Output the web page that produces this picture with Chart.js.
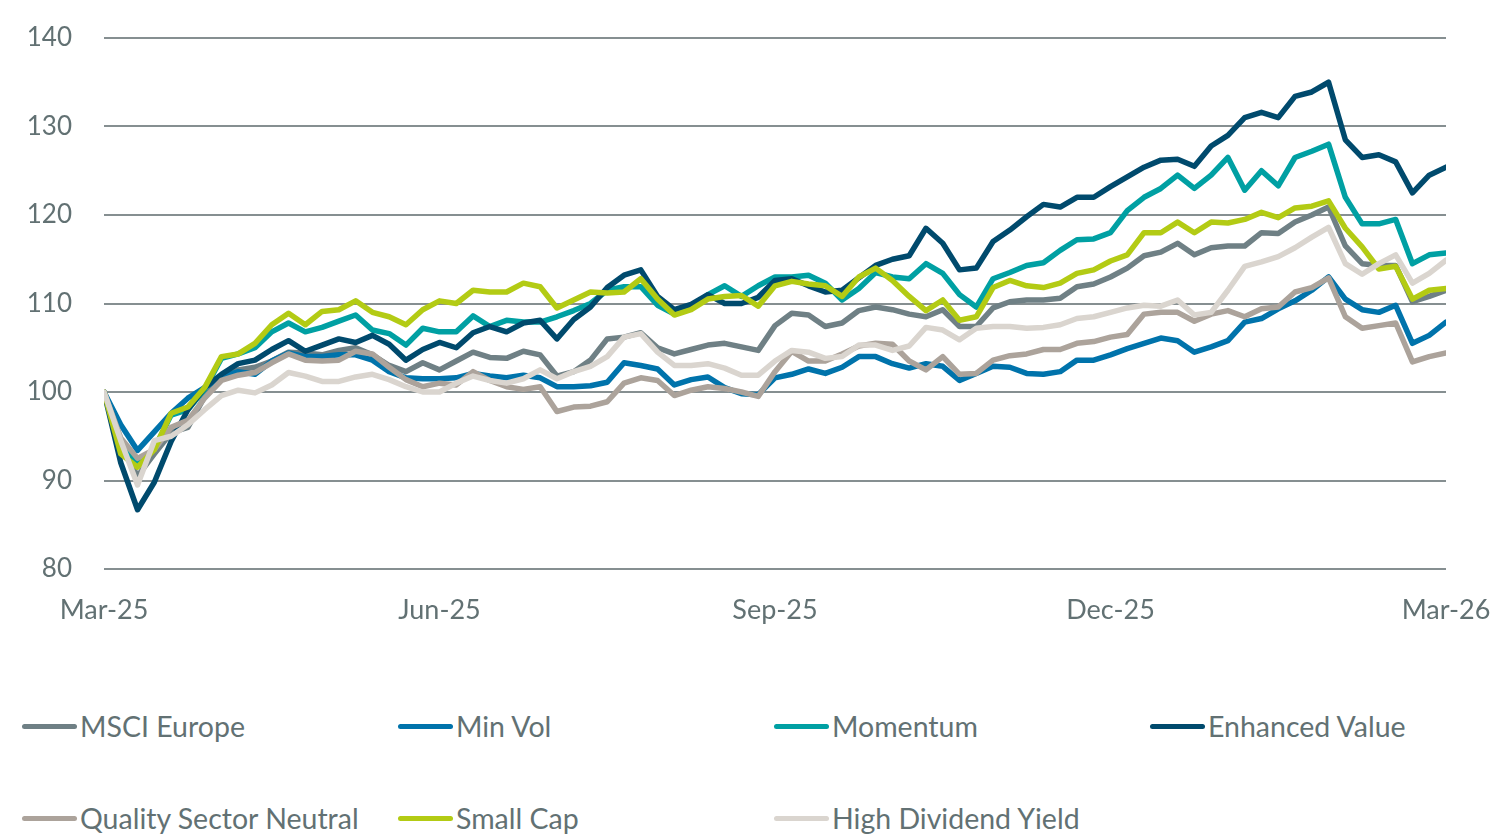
<!DOCTYPE html>
<html>
<head>
<meta charset="utf-8">
<script src="https://cdn.jsdelivr.net/npm/chart.js@4.4.1/dist/chart.umd.min.js"></script>
<style>
    html, body { margin: 0; padding: 0; background: #fff; }
    #wrap { position: relative; width: 1497px; height: 835px; font-family: Lato, 'Open Sans', sans-serif; }
    #chart { position: absolute; left: 0; top: 0; }
    .lg-item { position: absolute; display: flex; align-items: center; height: 40px; color: #627173; font-size: 28.5px; white-space: nowrap; }
    .lg-line { width: 55px; height: 5px; border-radius: 3px; margin-right: 3px; }
</style>
</head>
<body>
<div id="wrap">
    <canvas id="chart" width="1497" height="650"></canvas>
    <div id="legend"></div>
</div>
<script>
// ─── Data (index levels, Mar-25 = 100) ───────────────────────────────────────
const xTickLabels = ['Mar-25', 'Jun-25', 'Sep-25', 'Dec-25', 'Mar-26'];
const yTicks = [80, 90, 100, 110, 120, 130, 140];

const seriesNames = [
    'MSCI Europe', 'Min Vol', 'Momentum', 'Enhanced Value',
    'Quality Sector Neutral', 'Small Cap', 'High Dividend Yield',
];
const seriesColors = ['#6f8085', '#0073ab', '#00a0a3', '#004a6d', '#aca39b', '#b3cb14', '#dad5cf'];

const msciEurope = [100, 94, 90.5, 93, 95.4, 96, 99.5, 101.5, 102.5, 102.8,
    103.5, 104.5, 104.4, 104.2, 104.7, 105, 104.2, 103, 102.3, 103.3,
    102.5, 103.5, 104.5, 103.9, 103.8, 104.6, 104.2, 101.8, 102.3, 103.6,
    106, 106.2, 106.7, 105, 104.3, 104.8, 105.3, 105.5, 105.1, 104.7,
    107.5, 108.9, 108.7, 107.4, 107.8, 109.2, 109.6, 109.3, 108.8, 108.5,
    109.3, 107.4, 107.4, 109.5, 110.2, 110.4, 110.4, 110.6, 111.9, 112.2,
    113, 114, 115.4, 115.8, 116.8, 115.5, 116.3, 116.5, 116.5, 118,
    117.9, 119.2, 120, 120.9, 116.5, 114.5, 114.3, 114.3, 110.2, 110.8,
    111.5];
const minVol = [100, 96.3, 93.4, 95.5, 97.6, 99.3, 100.5, 101.7, 102.3, 102,
    103.5, 104.4, 104, 104, 104.2, 104.2, 103.6, 102.3, 101.6, 101.5,
    101.5, 101.6, 102.1, 101.8, 101.6, 101.9, 101.6, 100.6, 100.6, 100.7,
    101.1, 103.3, 103, 102.6, 100.8, 101.4, 101.7, 100.5, 99.8, 99.7,
    101.6, 102, 102.6, 102.1, 102.8, 104, 104, 103.2, 102.7, 103.2,
    102.9, 101.3, 102.1, 102.9, 102.8, 102.1, 102, 102.3, 103.6, 103.6,
    104.2, 104.9, 105.5, 106.1, 105.8, 104.5, 105.1, 105.8, 107.9, 108.3,
    109.4, 110.3, 111.5, 113, 110.5, 109.3, 109, 109.8, 105.5, 106.4,
    107.9];
const momentum = [100, 94, 91.8, 93.6, 97.4, 98, 100.3, 103.8, 104.3, 105,
    106.8, 107.8, 106.8, 107.3, 108, 108.7, 107, 106.6, 105.3, 107.2,
    106.8, 106.8, 108.6, 107.4, 108.1, 107.9, 107.9, 108.5, 109.2, 110,
    111.5, 111.9, 111.9, 109.8, 108.8, 109.6, 111, 112, 110.8, 112,
    113, 113, 113.2, 112.3, 110.4, 111.7, 113.5, 113, 112.8, 114.5,
    113.4, 111, 109.6, 112.8, 113.5, 114.3, 114.6, 116, 117.2, 117.3,
    118, 120.5, 122, 123, 124.5, 123, 124.5, 126.5, 122.8, 125,
    123.3, 126.5, 127.2, 128, 122, 119, 119, 119.5, 114.5, 115.5,
    115.7];
const enhancedValue = [100, 92, 86.7, 89.8, 94.4, 98, 100.5, 102, 103.2, 103.6,
    104.8, 105.8, 104.6, 105.3, 106, 105.6, 106.4, 105.4, 103.6, 104.8,
    105.6, 105, 106.7, 107.4, 106.8, 107.8, 108.1, 106, 108.2, 109.6,
    111.8, 113.2, 113.8, 110.8, 109.3, 109.9, 111, 110, 110, 110.7,
    112.6, 112.8, 112, 111.3, 111.5, 112.9, 114.3, 115, 115.4, 118.5,
    116.8, 113.8, 114, 117, 118.3, 119.8, 121.2, 120.9, 122, 122,
    123.2, 124.3, 125.4, 126.2, 126.3, 125.5, 127.8, 129, 131, 131.6,
    131, 133.4, 133.9, 135, 128.5, 126.5, 126.8, 126, 122.5, 124.5,
    125.4];
const qualitySectorNeutral = [100, 94.8, 92.5, 93.5, 96, 96.8, 99.3, 101.3, 101.9, 102.2,
    103.3, 104.3, 103.6, 103.5, 103.6, 104.6, 104.3, 102.8, 101.4, 100.6,
    101, 100.8, 102.3, 101.3, 100.6, 100.3, 100.6, 97.8, 98.3, 98.4,
    98.9, 101, 101.6, 101.3, 99.6, 100.2, 100.6, 100.4, 100, 99.5,
    102.3, 104.6, 103.5, 103.5, 104.3, 105.2, 105.5, 105.4, 103.5, 102.5,
    104, 102, 102.1, 103.6, 104.1, 104.3, 104.8, 104.8, 105.5, 105.7,
    106.2, 106.5, 108.8, 109, 109, 108, 108.8, 109.2, 108.5, 109.4,
    109.6, 111.3, 111.8, 112.9, 108.5, 107.2, 107.5, 107.8, 103.4, 104,
    104.4];
const smallCap = [100, 93, 91.5, 93.5, 97.6, 98.3, 100.5, 104, 104.3, 105.5,
    107.6, 108.9, 107.6, 109.1, 109.3, 110.3, 109, 108.5, 107.6, 109.3,
    110.3, 110, 111.5, 111.3, 111.3, 112.3, 111.9, 109.5, 110.4, 111.3,
    111.2, 111.3, 112.8, 110.5, 108.7, 109.3, 110.5, 110.8, 110.9, 109.7,
    112, 112.5, 112.2, 112, 110.8, 113, 114, 112.6, 110.8, 109.2,
    110.4, 108.1, 108.5, 111.8, 112.6, 112, 111.8, 112.3, 113.4, 113.8,
    114.8, 115.5, 118, 118, 119.2, 118, 119.2, 119.1, 119.5, 120.3,
    119.7, 120.8, 121, 121.6, 118.5, 116.4, 113.9, 114.2, 110.5, 111.5,
    111.7];
const highDividendYield = [100, 94.5, 89.5, 94.5, 95, 96.3, 98, 99.6, 100.2, 99.9,
    100.8, 102.2, 101.8, 101.2, 101.2, 101.7, 102, 101.4, 100.6, 100,
    100, 101, 101.8, 101.3, 101, 101.5, 102.5, 101.5, 102.3, 102.9,
    104, 106.2, 106.6, 104.5, 103, 103, 103.2, 102.7, 101.9, 101.9,
    103.5, 104.7, 104.5, 103.8, 104, 105.3, 105.3, 104.7, 105.2, 107.3,
    107, 105.9, 107.2, 107.4, 107.4, 107.2, 107.3, 107.6, 108.3, 108.5,
    109, 109.5, 109.8, 109.7, 110.4, 108.7, 109, 111.5, 114.2, 114.7,
    115.3, 116.3, 117.5, 118.6, 114.5, 113.3, 114.5, 115.5, 112.3, 113.4,
    114.9];

const seriesValues = [msciEurope, minVol, momentum, enhancedValue, qualitySectorNeutral, smallCap, highDividendYield];

// ─── Styling ─────────────────────────────────────────────────────────────────
const textColor = '#627173';
const gridColor = '#868f91';
const fontFamily = 'Lato, "Open Sans", sans-serif';
const lastIndex = msciEurope.length - 1;
const tickStep = lastIndex / (xTickLabels.length - 1);

const datasets = seriesNames.map((name, idx) => ({
    label: name,
    data: seriesValues[idx].map((v, i) => ({ x: i, y: v })),
    borderColor: seriesColors[idx],
    backgroundColor: seriesColors[idx],
    borderWidth: 5.5,
    borderJoinStyle: 'round',
    borderCapStyle: 'round',
    pointRadius: 0,
    tension: 0,
    // later series sit on top, like the original
    order: seriesNames.length - 1 - idx,
}));

new Chart(document.getElementById('chart'), {
    type: 'line',
    data: { datasets },
    options: {
        responsive: false,
        animation: false,
        devicePixelRatio: 1,
        layout: { padding: { top: 38, right: 51, left: 0, bottom: 0 } },
        plugins: {
            legend: { display: false },
            tooltip: { enabled: false },
        },
        scales: {
            x: {
                type: 'linear',
                min: 0,
                max: lastIndex,
                grid: { display: false, drawTicks: false },
                border: { display: false },
                afterBuildTicks: scale => {
                    scale.ticks = xTickLabels.map((_, k) => ({ value: k * tickStep }));
                },
                afterFit: scale => {
                    // fixed plot box: labels may overhang into the padding
                    scale.height = 81;
                    scale.paddingLeft = 0;
                    scale.paddingRight = 0;
                },
                ticks: {
                    color: textColor,
                    font: { family: fontFamily, size: 27 },
                    padding: 25,
                    maxRotation: 0,
                    autoSkip: false,
                    callback: v => xTickLabels[Math.round(v / tickStep)],
                },
            },
            y: {
                min: yTicks[0],
                max: yTicks[yTicks.length - 1],
                afterBuildTicks: scale => {
                    scale.ticks = yTicks.map(v => ({ value: v }));
                },
                afterFit: scale => {
                    scale.width = 104;
                    scale.paddingTop = 0;
                    scale.paddingBottom = 0;
                },
                grid: { color: gridColor, lineWidth: 2, drawTicks: false },
                border: { display: false },
                ticks: { color: textColor, font: { family: fontFamily, size: 26 }, padding: 32 },
            },
        },
    },
});

// ─── HTML legend, 4 columns ──────────────────────────────────────────────────
const legendEl = document.getElementById('legend');
seriesNames.forEach((name, idx) => {
    const col = idx % 4;
    const row = Math.floor(idx / 4);
    const item = document.createElement('div');
    item.className = 'lg-item';
    item.style.left = (22 + col * 376) + 'px';
    item.style.top = (706 + row * 92) + 'px';
    item.innerHTML = `<span class="lg-line" style="background:${seriesColors[idx]}"></span><span>${name}</span>`;
    legendEl.appendChild(item);
});
</script>
</body>
</html>
